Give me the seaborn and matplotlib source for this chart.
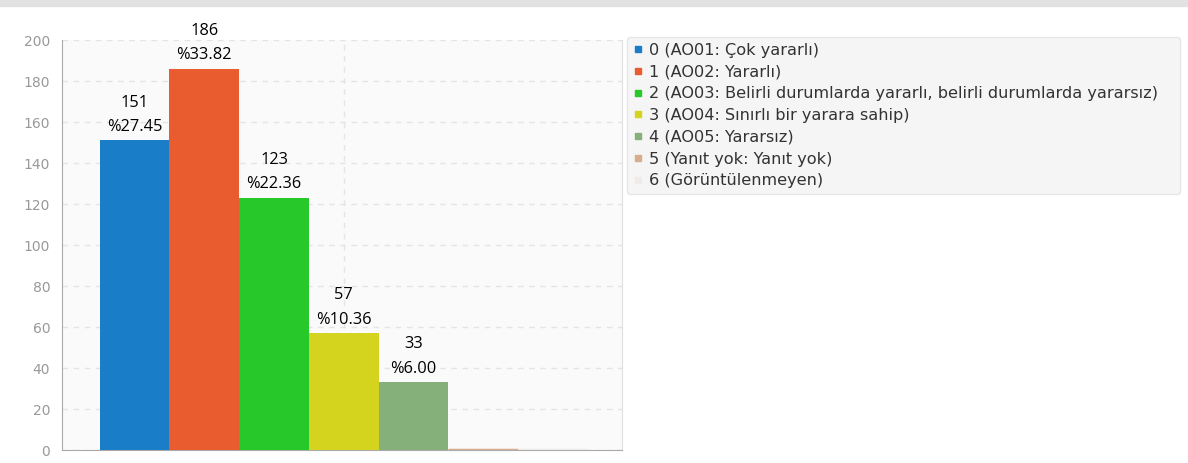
import matplotlib
matplotlib.use('Agg')
import matplotlib.pyplot as plt
import matplotlib.patches as mpatches
from matplotlib.lines import Line2D
import seaborn as sns

categories = ['0 (AO01: Çok yararlı)', '1 (AO02: Yararlı)',
              '2 (AO03: Belirli durumlarda yararlı, belirli durumlarda yararsız)',
              '3 (AO04: Sınırlı bir yarara sahip)', '4 (AO05: Yararsız)',
              '5 (Yanıt yok: Yanıt yok)', '6 (Görüntülenmeyen)']
counts = [151, 186, 123, 57, 33, 0, 0]
percents = ['%27.45', '%33.82', '%22.36', '%10.36', '%6.00', '', '']
colors = ['#1a7dc8', '#e85c30', '#27c92a', '#d4d41e', '#86b07a', '#d8ad8e', '#efebe8']

sns.set_style('white')
plt.rcParams['font.family'] = ['DejaVu Sans']

fig = plt.figure(figsize=(11.88, 4.63), dpi=100)
fig.patches.append(mpatches.Rectangle((0, 0.988), 1, 0.012, transform=fig.transFigure,
                                      color='#e2e2e2', zorder=0))
ax = fig.add_axes([0.0522, 0.028, 0.4714, 0.8856])
ax.set_facecolor('#fafafa')

sns.barplot(x=categories, y=counts, hue=categories, palette=colors, width=1,
            dodge=False, legend=False, saturation=1, ax=ax)

for i, cont in enumerate(ax.containers):
    for bar in cont:
        bar.set_zorder(3)
        if counts[i] == 0:
            bar.set_edgecolor(colors[i])
            bar.set_linewidth(2.5)
        else:
            bar.set_linewidth(0)
    if counts[i] > 0:
        ax.bar_label(cont, labels=[f'{counts[i]}\n{percents[i]}'], padding=4,
                     fontsize=11.8, family='Open Sans', color='#000000',
                     linespacing=1.7)

ax.set_xlim(-1.04, 6.99)
ax.set_ylim(0, 200)
ax.set_yticks(range(0, 201, 20))
ax.set_xticks([3])
ax.set_xticklabels([])
ax.tick_params(axis='x', length=0)
ax.tick_params(axis='y', colors='#aaaaaa', labelcolor='#999999', labelsize=10,
               length=5, width=1, direction='out')
ax.grid(True, axis='both', linestyle=(0, (4, 4)), color='#e4e4e4', linewidth=1)
ax.set_axisbelow(True)
ax.set_xlabel('')
ax.set_ylabel('')
for side in ['left', 'bottom']:
    ax.spines[side].set_color('#aaaaaa')
ax.spines['right'].set_color('#e0e0e0')
ax.spines['top'].set_visible(False)

handles = [Line2D([], [], marker='s', linestyle='', markersize=4,
                  color=c) for c in colors]
leg = ax.legend(handles, categories, loc='upper left',
                bbox_to_anchor=(1.009, 0.622, 0.9875, 0.385), mode='expand',
                borderaxespad=0, fontsize=11.6, frameon=True, handlelength=0.6,
                handletextpad=0.4, labelspacing=0.42, borderpad=0.35,
                fancybox=True, shadow=False)
leg.get_frame().set_facecolor('#f3f3f3')
leg.get_frame().set_edgecolor('#e2e2e2')
for t in leg.get_texts():
    t.set_color('#333333')

plt.savefig('out.png', dpi=100)
